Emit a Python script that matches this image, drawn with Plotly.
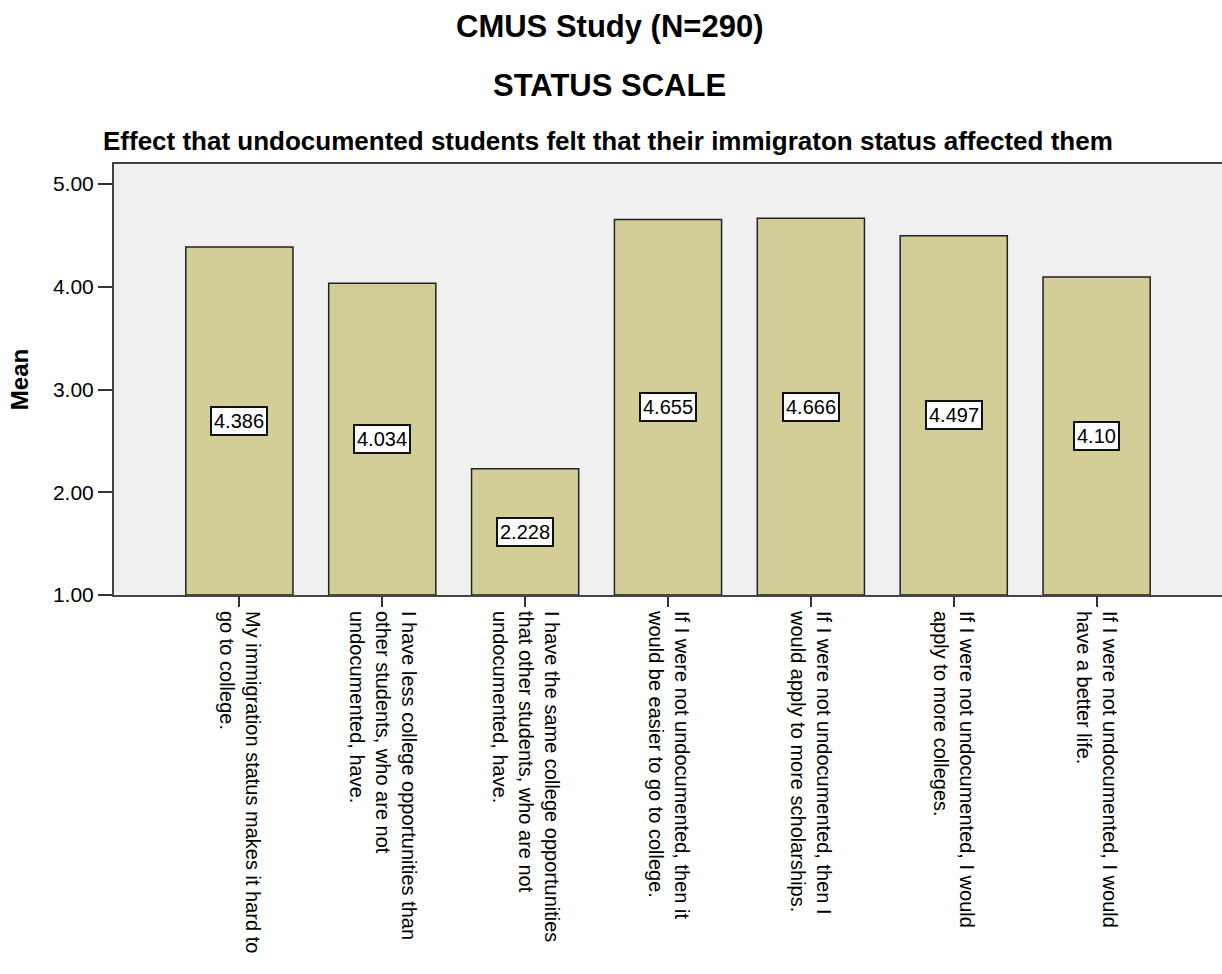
import plotly.graph_objects as go

categories = [
    "My immigration status makes it hard to<br>go to college.",
    "I have less college opportunities than<br>other students, who are not<br>undocumented, have.",
    "I have the same college opportunities<br>that other students, who are not<br>undocumented, have.",
    "If I were not undocumented, then it<br>would be easier to go to college.",
    "If I were not undocumented, then I<br>would apply to more scholarships.",
    "If I were not undocumented, I would<br>apply to more colleges.",
    "If I were not undocumented, I would<br>have a better life.",
]
means = [4.386, 4.034, 2.228, 4.655, 4.666, 4.497, 4.095]
value_labels = ["4.386", "4.034", "2.228", "4.655", "4.666", "4.497", "4.10"]
y_ticks = [1, 2, 3, 4, 5]
y_tick_text = ["1.00", "2.00", "3.00", "4.00", "5.00"]

W, H = 1222, 974
L, R, T, B = 114, 0, 164, 379
pw, ph = W - L - R, H - T - B

xs = list(range(len(categories)))
base = 1.0
FONT = "Liberation Sans, Arial"

fig = go.Figure()
fig.add_trace(go.Bar(
    x=xs, y=[m - base for m in means], base=base, width=0.75,
    marker=dict(color="#D3CD98", line=dict(color="#222222", width=1.5)),
    hoverinfo="skip",
))

for x, m, lab in zip(xs, means, value_labels):
    fig.add_annotation(x=x, y=(base + m) / 2, text=lab, showarrow=False,
                       font=dict(family=FONT, size=20, color="black"),
                       bgcolor="white", bordercolor="#111111", borderwidth=2, borderpad=2)

def px_x(p):
    return (p - L) / pw

def px_y(p):
    return (H - B - p) / ph

fig.add_annotation(xref="paper", yref="paper", x=px_x(609), y=px_y(27), text="<b>CMUS Study (N=290)</b>",
                   showarrow=False, font=dict(family=FONT, size=31, color="black"),
                   xanchor="center", yanchor="middle")
fig.add_annotation(xref="paper", yref="paper", x=px_x(609), y=px_y(86), text="<b>STATUS SCALE</b>",
                   showarrow=False, font=dict(family=FONT, size=31, color="black"),
                   xanchor="center", yanchor="middle")
fig.add_annotation(xref="paper", yref="paper", x=px_x(608), y=px_y(141),
                   text="<b>Effect that undocumented students felt that their immigraton status affected them</b>",
                   showarrow=False, font=dict(family=FONT, size=26, color="black"),
                   xanchor="center", yanchor="middle")

x0 = -125.5 / 143
fig.update_layout(
    width=W, height=H,
    margin=dict(l=L, r=R, t=T, b=B, pad=0),
    paper_bgcolor="white", plot_bgcolor="#F0F0F0",
    showlegend=False,
    font=dict(family=FONT, color="black"),
    xaxis=dict(range=[x0, len(categories) - 1 - x0], tickvals=xs, ticktext=categories,
               tickangle=90, tickfont=dict(size=20, color="black"),
               showgrid=False, zeroline=False, showline=True, linecolor="#444444", linewidth=2,
               mirror=True, ticks="outside", ticklen=10, tickcolor="#333333", tickwidth=1.5),
    yaxis=dict(range=[1, 1 + (H - B - T) / 102.75], tickvals=y_ticks, ticktext=y_tick_text,
               tickfont=dict(size=21, color="black"),
               showgrid=False, zeroline=False, showline=True, linecolor="#444444", linewidth=2,
               ticks="outside", ticklen=14, tickcolor="#333333", tickwidth=1.5,
               title=dict(text="<b>Mean</b>", font=dict(size=24, color="black"), standoff=18)),
)

fig.write_html("out.html")
